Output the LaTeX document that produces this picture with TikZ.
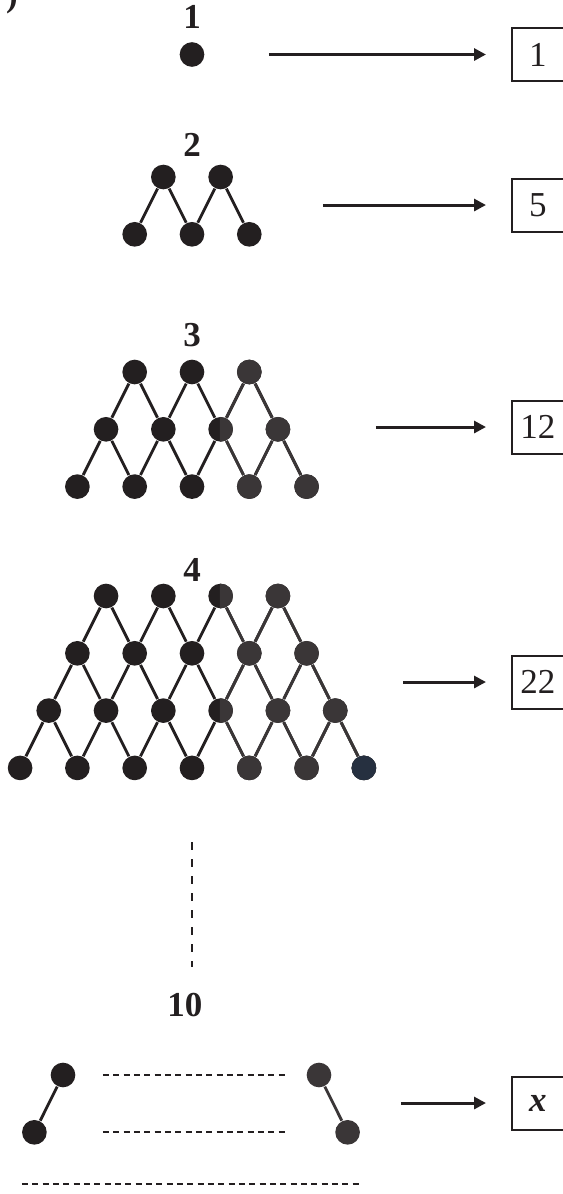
\documentclass[tikz,border=0pt]{standalone}
\usepackage{fontspec}
\setmainfont{Liberation Serif}
\usetikzlibrary{arrows.meta}
\definecolor{dotA}{HTML}{231F20}
\definecolor{dotB}{HTML}{3A3637}
\definecolor{dotC}{HTML}{263040}
\tikzset{
  dot/.style={circle,fill=#1,inner sep=0pt,minimum size=7.4pt},
  dot/.default=dotA,
  bond/.style={draw=#1,line width=0.85pt},
  bond/.default=dotA,
  lbl/.style={font=\fontsize{10.5}{12}\selectfont\bfseries,text=dotA},
  res/.style={draw=dotA,line width=0.6pt,minimum width=15.6pt,minimum height=15.9pt,inner sep=0pt,
    font=\fontsize{10.5}{12}\selectfont,text=dotA},
  arr/.style={draw=dotA,line width=0.9pt,-{Triangle[length=3.6pt,width=3.6pt]},shorten >=7.5pt},
  gap/.style={draw=dotA,line width=0.6pt,dash pattern=on 1.8pt off 1.3pt},
}
% rows, top y, colour, name prefix
\newcommand{\lattice}[4]{%
  \foreach \r in {1,...,#1}{
    \pgfmathtruncatemacro{\cnt}{#1+\r-1}
    \foreach \ii in {1,...,\cnt}
      \node[dot=#3] (#4-\r-\ii) at ({192+(\ii-(\cnt+1)/2)*57.3},{#2+(\r-1)*57.3}) {};
  }
  \ifnum#1>1
    \pgfmathtruncatemacro{\lastrow}{#1-1}
    \foreach \r in {1,...,\lastrow}{
      \pgfmathtruncatemacro{\cnt}{#1+\r-1}
      \pgfmathtruncatemacro{\nxt}{\r+1}
      \foreach \ii in {1,...,\cnt}{
        \pgfmathtruncatemacro{\jj}{\ii+1}
        \draw[bond=#3] (#4-\r-\ii) -- (#4-\nxt-\ii) (#4-\r-\ii) -- (#4-\nxt-\jj);
      }
    }
  \fi
}

\begin{document}
\begin{tikzpicture}[x=0.3pt,y=-0.3pt]
  \useasboundingbox (0,0) rectangle (563,1194);
  \node[lbl] (tag) at (12,-2) {)};

  % the figures
  \foreach \n/\y/\ly in {1/54.5/17,2/177/145,3/372/335,4/596/570}
  {
    \node[lbl] (n\n) at (192,\ly) {\n};
    \lattice{\n}{\y}{dotA}{L\n}
  }
  \begin{scope}
    \clip (220,300) rectangle (563,800);
    \lattice{3}{372}{dotB}{G3}
    \lattice{4}{596}{dotB}{G4}
  \end{scope}
  \node[dot=dotC] (c4) at (G4-4-7) {};

  \draw[line width=0.8pt,draw=dotA,dash pattern=on 2.4pt off 2.7pt] (192,842) -- (192,967);

  % tenth figure
  \node[lbl] (n10) at (185,1005) {10};
  \node[dot] (p1) at (63,1075) {};
  \node[dot] (p2) at (34.4,1132.3) {};
  \node[dot=dotB] (q1) at (319,1075) {};
  \node[dot=dotB] (q2) at (347.6,1132.3) {};
  \draw[bond] (p1) -- (p2);
  \draw[bond=dotB] (q1) -- (q2);
  \draw[gap] (103,1075) -- (285,1075);
  \draw[gap] (103,1132.3) -- (285,1132.3);
  \draw[gap] (22,1184) -- (360,1184);

  % results
  \foreach \v/\y/\x[count=\i] in {1/54.5/269,5/205/323,12/427/376,22/682/403,\textbf{\textit{x}}/1103/401}
  {
    \node[res] (r\i) at (538,\y) {\v};
    \coordinate (a\i) at (\x,\y);
    \draw[arr] (a\i) -- (r\i);
  }
\end{tikzpicture}
\end{document}
